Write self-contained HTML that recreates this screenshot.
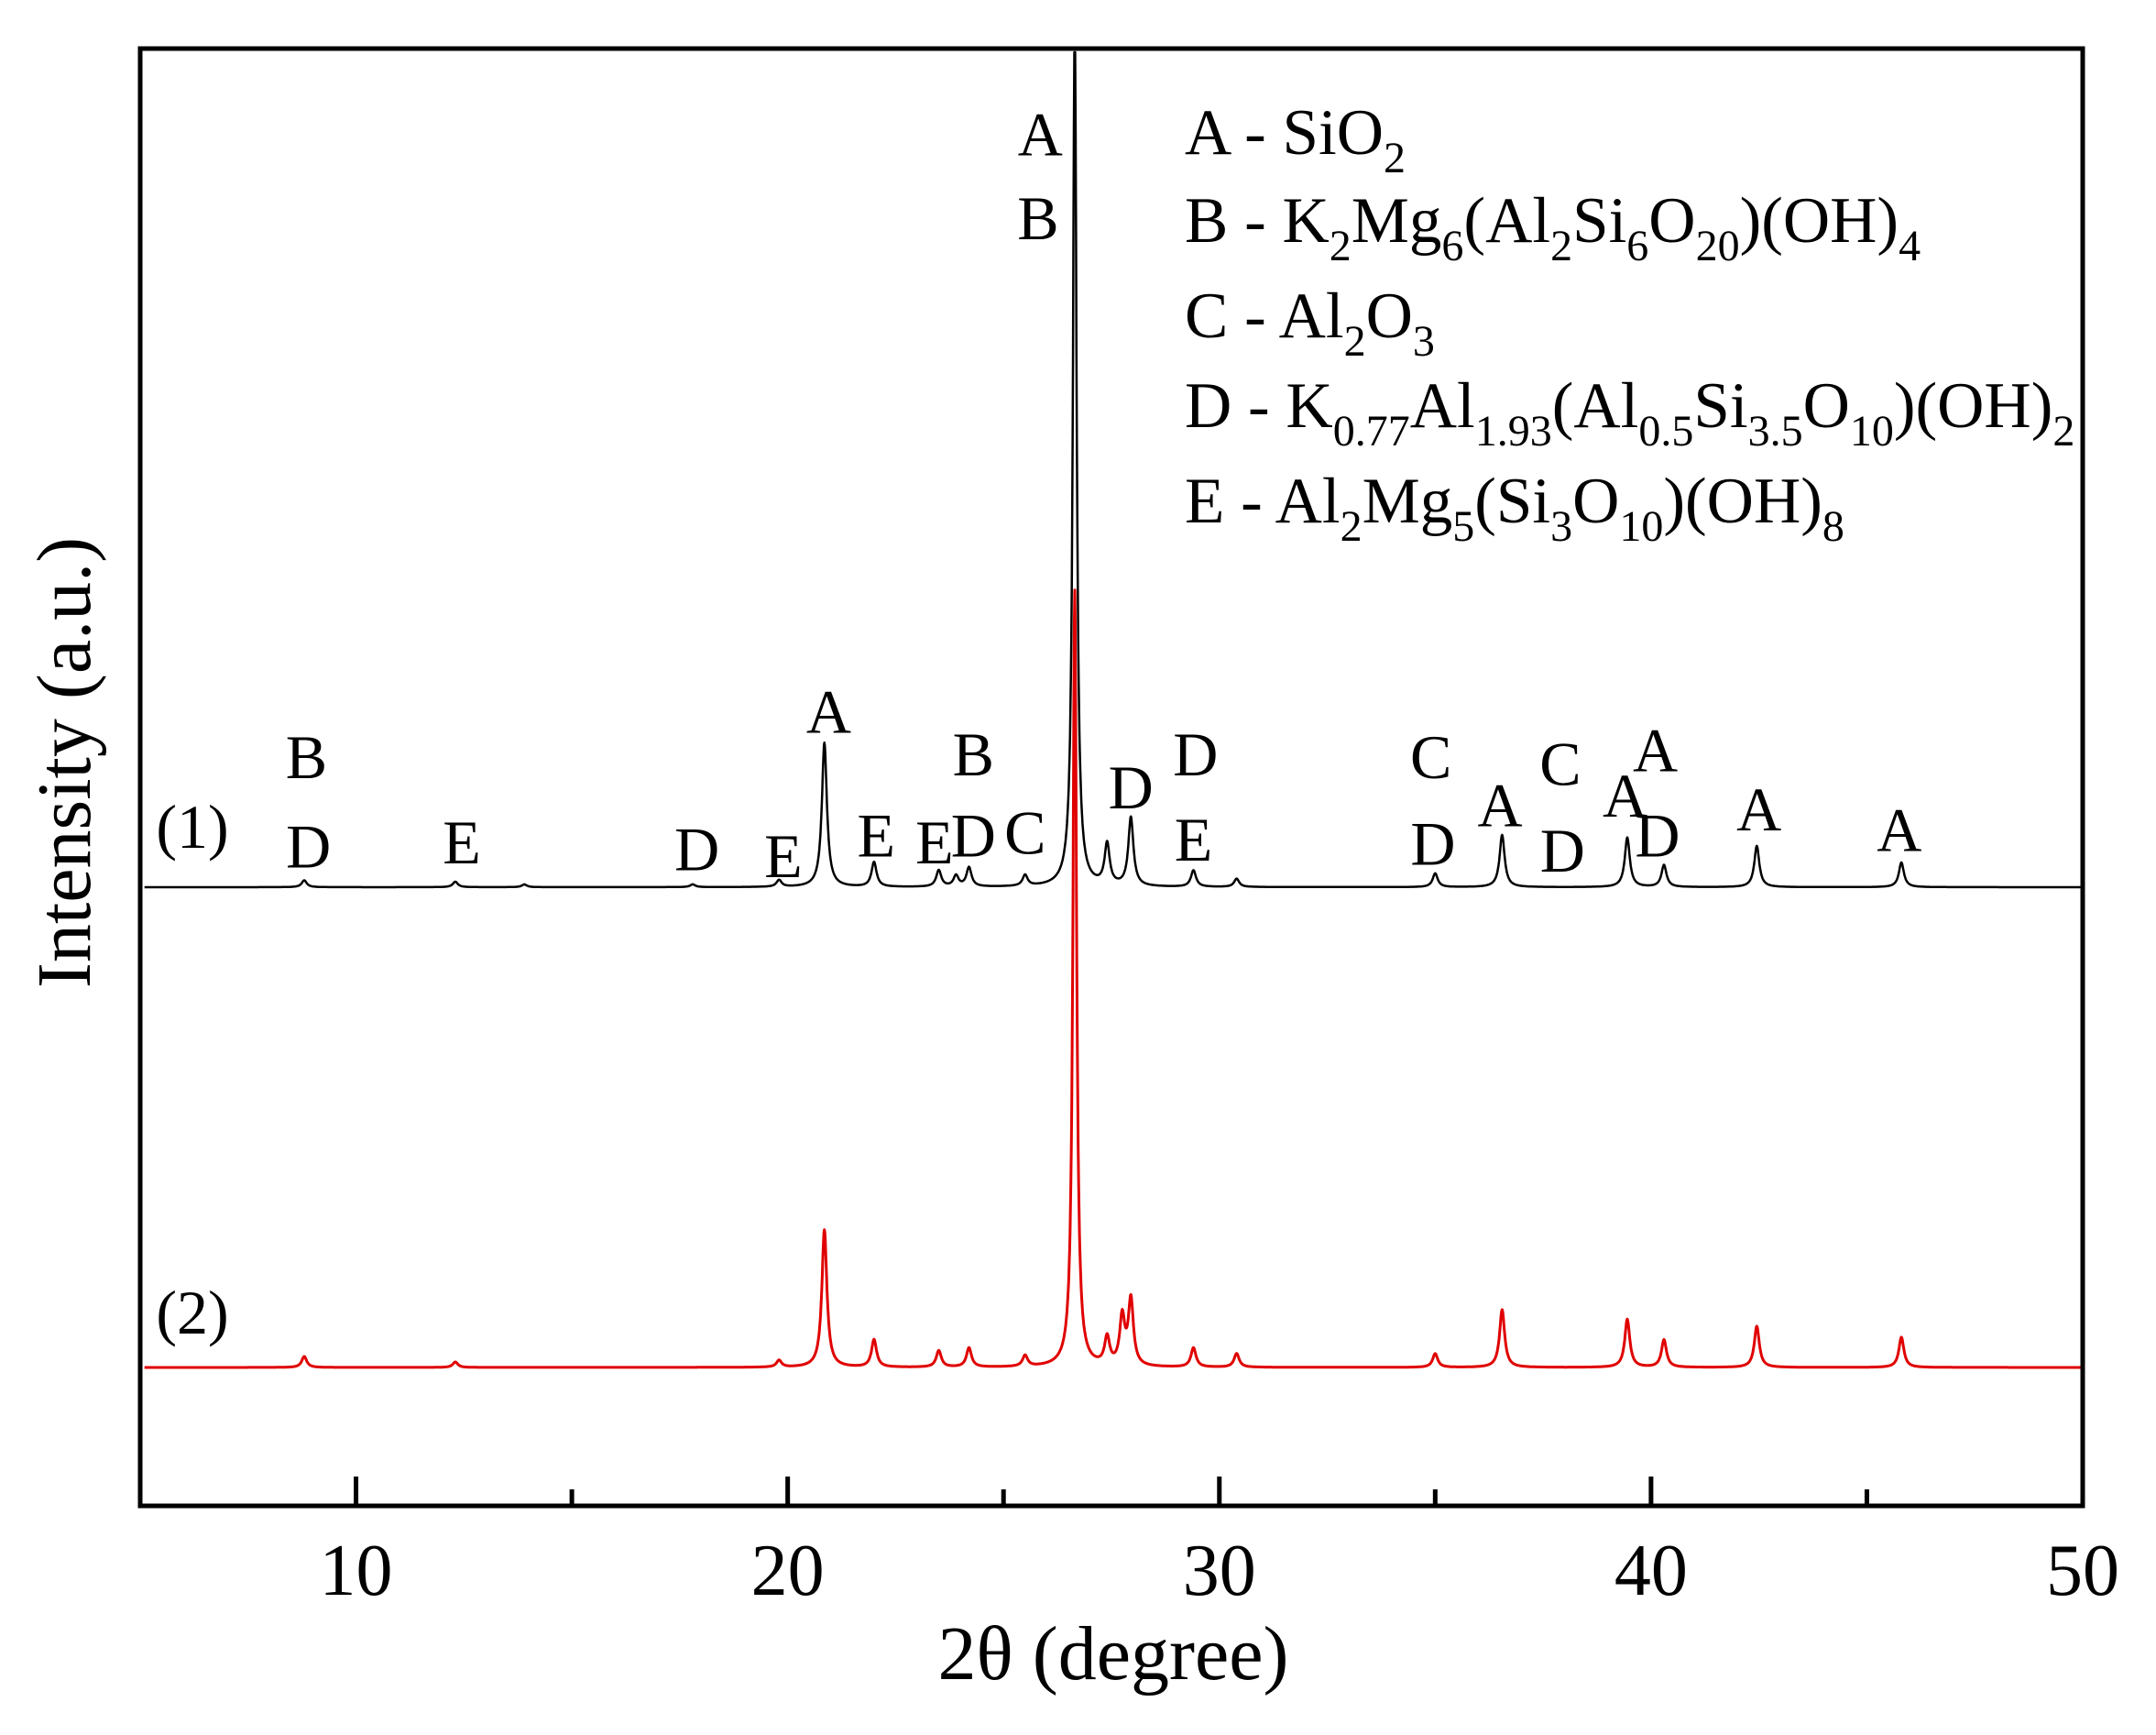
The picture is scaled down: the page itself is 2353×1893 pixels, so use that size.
<!DOCTYPE html>
<html><head><meta charset="utf-8"><style>
html,body{margin:0;padding:0;background:#fff;}
svg{display:block;font-family:"Liberation Serif","DejaVu Serif",serif;}
</style></head><body>
<svg id="chart" width="2353" height="1893" viewBox="0 0 2353 1893" xmlns="http://www.w3.org/2000/svg">
<rect width="2353" height="1893" fill="#fff"/>
<g id="series"></g>
<g id="axes"></g>
<g id="annos" font-size="68" fill="#000"></g>
<g id="legend" font-size="71" fill="#000">
<text x="1293" y="168">A - SiO<tspan font-size="48" dy="20">2</tspan></text>
<text x="1293" y="264">B - K<tspan font-size="48" dy="20">2</tspan><tspan dy="-20">Mg</tspan><tspan font-size="48" dy="20">6</tspan><tspan dy="-20">(Al</tspan><tspan font-size="48" dy="20">2</tspan><tspan dy="-20">Si</tspan><tspan font-size="48" dy="20">6</tspan><tspan dy="-20">O</tspan><tspan font-size="48" dy="20">20</tspan><tspan dy="-20">)(OH)</tspan><tspan font-size="48" dy="20">4</tspan></text>
<text x="1293" y="368">C - Al<tspan font-size="48" dy="20">2</tspan><tspan dy="-20">O</tspan><tspan font-size="48" dy="20">3</tspan></text>
<text x="1293" y="466">D - K<tspan font-size="48" dy="20">0.77</tspan><tspan dy="-20">Al</tspan><tspan font-size="48" dy="20">1.93</tspan><tspan dy="-20">(Al</tspan><tspan font-size="48" dy="20">0.5</tspan><tspan dy="-20">Si</tspan><tspan font-size="48" dy="20">3.5</tspan><tspan dy="-20">O</tspan><tspan font-size="48" dy="20">10</tspan><tspan dy="-20">)(OH)</tspan><tspan font-size="48" dy="20">2</tspan></text>
<text x="1293" y="570">E - Al<tspan font-size="48" dy="20">2</tspan><tspan dy="-20">Mg</tspan><tspan font-size="48" dy="20">5</tspan><tspan dy="-20">(Si</tspan><tspan font-size="48" dy="20">3</tspan><tspan dy="-20">O</tspan><tspan font-size="48" dy="20">10</tspan><tspan dy="-20">)(OH)</tspan><tspan font-size="48" dy="20">8</tspan></text>
</g>
<text x="1215" y="1832" font-size="84" text-anchor="middle">2θ (degree)</text>
<text transform="translate(98,832) rotate(-90)" font-size="84" text-anchor="middle">Intensity (a.u.)</text>
</svg>
<script>
// data
const xTicks = [10, 20, 30, 40, 50];
const xMinorTicks = [15, 25, 35, 45];
const peaks1Pos = [8.8, 12.3, 13.9, 17.8, 19.8, 20.85, 22.0, 23.5, 23.9, 24.2, 25.5, 26.65, 27.4, 27.95, 29.4, 30.4, 35.0, 36.55, 39.45, 40.3, 42.45, 45.8];
const peaks1Int = [5, 4, 2, 2, 5, 105, 18, 12, 8, 14, 8, 640, 30, 50, 12, 6, 10, 38, 36, 16, 30, 18];
const peaks2Pos = [8.8, 12.3, 19.8, 20.85, 22.0, 23.5, 24.2, 25.5, 26.65, 27.4, 27.75, 27.95, 29.4, 30.4, 35.0, 36.55, 39.45, 40.3, 42.45, 45.8];
const peaks2Int = [8, 4, 5, 100, 20, 12, 14, 8, 565, 20, 35, 48, 14, 10, 10, 42, 35, 20, 30, 22];
const seriesNames = ['(1)', '(2)'];
const annoLetters = ['A','B','B','D','E','D','E','A','E','E','B','D','C','D','D','E','C','D','A','C','D','A','A','D','A','A'];
const annoX = [25.85,25.8,8.85,8.9,12.45,17.9,19.9,20.95,22.05,23.4,24.3,24.3,25.5,27.95,29.45,29.4,34.9,34.95,36.5,37.9,37.95,39.4,40.1,40.15,42.5,45.75];
const annoRow = [97,158,550,615,612,617,622,517,607,612,548,607,605,572,548,610,550,613,585,555,618,578,545,607,588,603];

const L=153,R=2273,T=53,B=1643, X0=5, X1=50;
const sx = v => L + (v - X0) / (X1 - X0) * (R - L);
const base = [968, 1492];
const ypx = 1.5;
const NS='http://www.w3.org/2000/svg';
function mk(tag, attrs, parent){const e=document.createElementNS(NS,tag);for(const k in attrs)e.setAttribute(k,attrs[k]);parent.appendChild(e);return e;}

function curve(pos, ints, w, x){let s=0;for(let i=0;i<pos.length;i++){const hw = ints[i]>300 ? 0.05 : w; const d=(x-pos[i])/hw; s+=ints[i]/(1+d*d);}return s;}
const sg=document.getElementById('series');
[[peaks1Pos,peaks1Int,'#000',2.5],[peaks2Pos,peaks2Int,'#e00000',3]].forEach((s,k)=>{
  let d='';
  for(let x=X0+0.1;x<=X1;x+=0.01){
    let y=base[k]-curve(s[0],s[1],0.07,x)*ypx;
    if(y<T+4)y=T+4;
    d+=(d?'L':'M')+sx(x).toFixed(1)+' '+y.toFixed(1);
  }
  const p=mk('path',{d:d,fill:'none',stroke:s[2],'stroke-width':s[3],'stroke-linejoin':'round'},sg);
  
  
  const t=mk('text',{x:210,y:k===0?925:1455,'font-size':68,'text-anchor':'middle'},sg);
  t.textContent=seriesNames[k];
  
  
});

const ax=document.getElementById('axes');
const frame=mk('rect',{x:L,y:T,width:R-L,height:B-T,fill:'none',stroke:'#000','stroke-width':5},ax);


xTicks.forEach(v=>{
  const ln=mk('line',{x1:sx(v),x2:sx(v),y1:B,y2:B-32,stroke:'#000','stroke-width':5},ax);
  
  
  const t=mk('text',{x:sx(v),y:1740,'font-size':80,'text-anchor':'middle'},ax);
  t.textContent=v;
  
  
});
xMinorTicks.forEach(v=>{
  const ln=mk('line',{x1:sx(v),x2:sx(v),y1:B,y2:B-18,stroke:'#000','stroke-width':5},ax);
  
  
});
const an=document.getElementById('annos');
annoLetters.forEach((c,i)=>{
  const t=mk('text',{x:sx(annoX[i]),y:annoRow[i]*1.5+24,'text-anchor':'middle'},an);
  t.textContent=c;
  
  
});
</script>
</body></html>
